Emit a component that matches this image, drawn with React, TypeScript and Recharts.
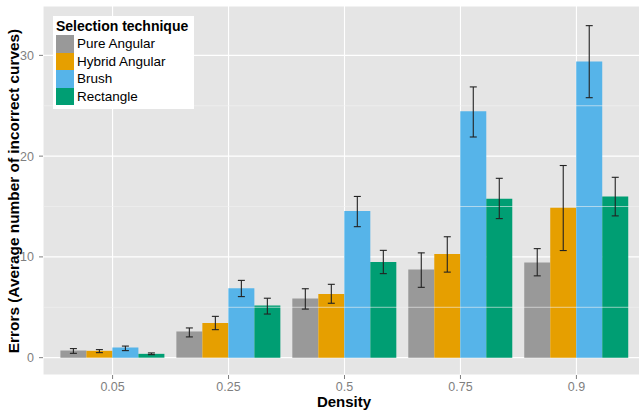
import { BarChart, Bar, XAxis, YAxis, CartesianGrid, ErrorBar, ReferenceLine } from "recharts";

// Densities on the x axis
const densities = ["0.05", "0.25", "0.5", "0.75", "0.9"];

// Mean errors per technique
const pureAngular = [0.72, 2.6, 5.86, 8.75, 9.44];
const hybridAngular = [0.68, 3.44, 6.32, 10.29, 14.88];
const brush = [1.0, 6.9, 14.55, 24.45, 29.4];
const rectangle = [0.38, 5.17, 9.5, 15.76, 16.0];

// Error bar ends [low, high]
const pureAngularErr = [[0.43, 0.9], [2.06, 2.95], [4.82, 6.84], [6.98, 10.4], [8.12, 10.82]];
const hybridAngularErr = [[0.5, 0.8], [2.78, 4.1], [5.4, 7.28], [8.49, 12.0], [10.63, 19.07]];
const brushErr = [[0.7, 1.15], [6.06, 7.67], [13.0, 16.0], [21.9, 26.87], [25.8, 32.95]];
const rectangleErr = [[0.3, 0.47], [4.33, 5.9], [8.34, 10.65], [13.8, 17.8], [14.07, 17.9]];

const yTicks = [0, 10, 20, 30];
const minorTicks = [5, 15, 25];

const series = [
  { key: "pure", name: "Pure Angular", color: "#999999", values: pureAngular, err: pureAngularErr },
  { key: "hybrid", name: "Hybrid Angular", color: "#E69F00", values: hybridAngular, err: hybridAngularErr },
  { key: "brush", name: "Brush", color: "#56B4E9", values: brush, err: brushErr },
  { key: "rect", name: "Rectangle", color: "#009E73", values: rectangle, err: rectangleErr },
];

const data = densities.map((d, i) => {
  const row: Record<string, any> = { density: d };
  series.forEach((s) => {
    row[s.key] = s.values[i];
    // ErrorBar wants offsets below/above the bar value
    row[s.key + "Err"] = [s.values[i] - s.err[i][0], s.err[i][1] - s.values[i]];
  });
  return row;
});

const FONT = "'Liberation Sans', Arial, sans-serif";
const TICK_COLOR = "#7F7F7F";

export default function App() {
  return (
    <div style={{ position: "absolute", left: 0, top: 0, width: 639, height: 413, overflow: "hidden", background: "#fff", fontFamily: FONT }}>
      <BarChart
        width={646}
        height={413}
        data={data}
        margin={{ top: 6, right: 0, bottom: 0, left: 0 }}
        barCategoryGap="5%"
        barGap={0}
      >
        <CartesianGrid fill="#E5E5E5" stroke="#FFFFFF" strokeWidth={1.1} />
        {minorTicks.map((t) => (
          <ReferenceLine key={t} y={t} stroke="#F2F2F2" strokeWidth={0.6} />
        ))}
        <XAxis
          dataKey="density"
          height={38}
          padding={{ left: 11.6, right: 11.6 }}
          axisLine={false}
          tickSize={4}
          tickMargin={3}
          tickLine={{ stroke: TICK_COLOR }}
          tick={{ fill: TICK_COLOR, fontSize: 12.5, fontFamily: FONT }}
        />
        <YAxis
          width={43}
          domain={[-1.72, 34.9]}
          allowDataOverflow
          ticks={yTicks}
          axisLine={false}
          tickSize={4}
          tickMargin={5}
          tickLine={{ stroke: TICK_COLOR }}
          tick={{ fill: TICK_COLOR, fontSize: 12.5, fontFamily: FONT }}
        />
        {series.map((s) => (
          <Bar key={s.key} dataKey={s.key} name={s.name} fill={s.color} isAnimationActive={false}>
            <ErrorBar dataKey={s.key + "Err"} width={3.5} stroke="#222222" strokeWidth={1.1} />
          </Bar>
        ))}
      </BarChart>

      {/* axis titles */}
      <div style={{ position: "absolute", left: 244, width: 200, top: 394, lineHeight: "15px", textAlign: "center", fontWeight: "bold", fontSize: 15, color: "#000" }}>
        Density
      </div>
      <div
        style={{
          position: "absolute",
          left: 14 - 200,
          top: 190.5 - 9,
          width: 400,
          height: 18,
          lineHeight: "18px",
          textAlign: "center",
          fontWeight: "bold",
          fontSize: 15.4,
          color: "#000",
          transform: "rotate(-90deg)",
          whiteSpace: "nowrap",
        }}
      >
        Errors (Average number of incorrect curves)
      </div>

      {/* legend */}
      <div style={{ position: "absolute", left: 53, top: 16, width: 141, height: 93, background: "#fff" }}>
        <div style={{ position: "absolute", left: 3, top: 2, fontWeight: "bold", fontSize: 14, whiteSpace: "nowrap" }}>
          Selection technique
        </div>
        {series.map((s, i) => (
          <div key={s.key} style={{ position: "absolute", left: 3, top: 19 + i * 17.6, height: 17.6, display: "flex", alignItems: "center" }}>
            <div style={{ width: 18, height: 17.6, background: s.color }} />
            <span style={{ marginLeft: 3, fontSize: 13.5, whiteSpace: "nowrap" }}>{s.name}</span>
          </div>
        ))}
      </div>
    </div>
  );
}
